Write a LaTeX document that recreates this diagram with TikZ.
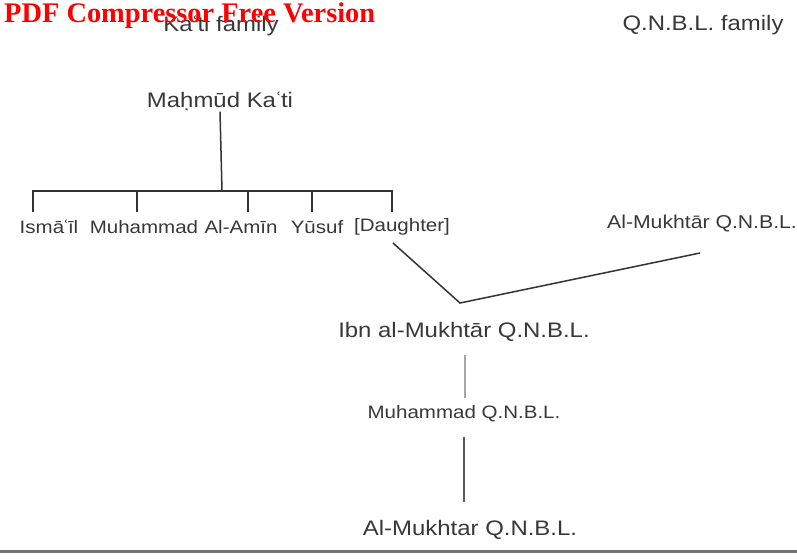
\documentclass[tikz,border=0pt]{standalone}
\usepackage{fontspec}
\setmainfont[FakeStretch=1.14]{Liberation Sans}
\newfontfamily\markfont{Liberation Serif}
\begin{document}
\begin{tikzpicture}[x=1pt,y=-1pt,
  lbl/.style={text=black!78, inner sep=1pt, font=\fontsize{21}{24}\selectfont},
  small/.style={lbl, font=\fontsize{18}{22}\selectfont},
  link/.style={draw=black!80, line width=1.5pt},
  faint/.style={draw=black!35, line width=1.3pt}]
\useasboundingbox (0,0) rectangle (797,559);
\newcommand\ayn{\kern-1.5pt ʿ\kern-1.5pt}
% family headings
\node[lbl] (hk) at (221,26) {Ka\ayn ti family};
\node[lbl] (hq) at (703,25) {Q.N.B.L. family};
% Ka'ti line
\node[lbl] (mk) at (220,101) {Maḥmūd Ka\ayn ti};
\coordinate (bar) at (222,191);
\coordinate (b1) at (33,191);
\coordinate (b2) at (137,191);
\coordinate (b3) at (248,191);
\coordinate (b4) at (312,191);
\coordinate (b5) at (392,191);
\draw[link] (mk.south) -- (bar);
\draw[link, line cap=rect] (b1) -- (b5);
\node[small] (ism) at (49,227) {Ismā\ayn īl};
\node[small] (muh) at (144,227) {Muhammad};
\node[small] (ami) at (241,227) {Al-Amīn};
\node[small] (yus) at (317,227) {Yūsuf};
\node[small] (dau) at (402,227) {[Daughter]};
\foreach \b in {b1,b2,b3,b4,b5}
  \draw[link] (\b) -- ++(0,21);
% Q.N.B.L. line
\node[small, font=\fontsize{18.6}{22}\selectfont] (amq) at (702,224) {Al-Mukhtār Q.N.B.L.};
\coordinate (meet) at (460,303);
\draw[link] (393,243) -- (meet) -- (700,253);
\node[lbl] (ibn) at (464,332) {Ibn al-Mukhtār Q.N.B.L.};
\node[small] (mq) at (464,414) {Muhammad Q.N.B.L.};
\node[lbl] (alm) at (470,530) {Al-Mukhtar Q.N.B.L.};
\draw[faint] (ibn.south -| 465,0) ++(0,12) -- (465,398);
\draw[link, line width=2pt, draw=black!65] (464,437) -- (464,502);
% rule at the foot
\draw[draw=black!55, line width=3pt] (0,551) -- (797,551);
% stamp
\node[anchor=west, text=red, inner sep=0pt, font=\markfont\bfseries\fontsize{28.4}{30}\selectfont] (stamp) at (4,16) {PDF Compressor Free Version};
\end{tikzpicture}
\end{document}
